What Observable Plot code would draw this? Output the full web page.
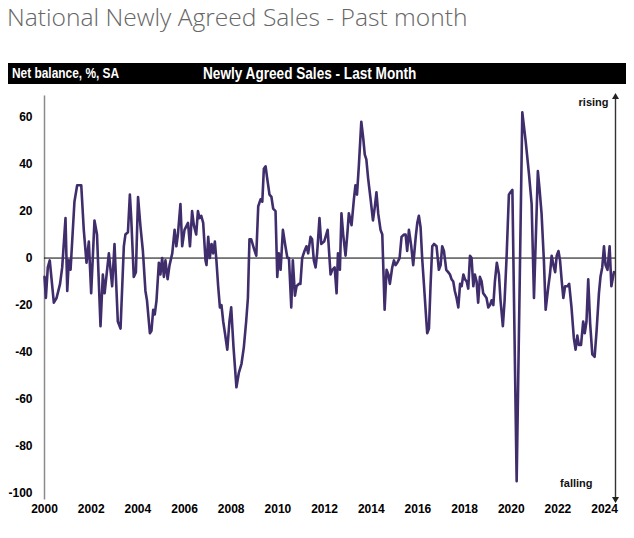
<!DOCTYPE html>
<html>
<head>
<meta charset="utf-8">
<script src="https://cdn.jsdelivr.net/npm/d3@7"></script>
<script src="https://cdn.jsdelivr.net/npm/@observablehq/plot@0.6"></script>
<style>
  html, body { margin: 0; padding: 0; background: #fff; }
  body { width: 634px; height: 538px; position: relative; overflow: hidden; }
  #title { position: absolute; left: 7px; top: -1px; font-family: "Open Sans", sans-serif; font-weight: 300; font-size: 24.6px; color: #666; line-height: 36px; white-space: nowrap; }
  #bar { position: absolute; left: 8px; top: 63px; width: 618px; height: 21px; background: #000; color: #fff; font-family: "Liberation Sans", Arial, sans-serif; font-weight: bold; }
  #bar .l { position: absolute; left: 4px; top: 2px; font-size: 14px; line-height: 17px; white-space: nowrap; transform: scaleX(0.85); transform-origin: 0 50%; }
  #bar .c { position: absolute; left: 195px; top: 1px; font-size: 16px; line-height: 19px; white-space: nowrap; transform: scaleX(0.85); transform-origin: 0 50%; }
  #chart { position: absolute; left: 0; top: 88px; }
</style>
</head>
<body>
<div id="title">National Newly Agreed Sales - Past month</div>
<div id="bar"><span class="l">Net balance, %, SA</span><span class="c">Newly Agreed Sales - Last Month</span></div>
<div id="chart"></div>
<script>
// Position of each vertex, in months since January 2000
const monthsSince2000 = [
  0, 0.7, 1.7, 2.7, 4.8, 6.2, 7.4, 8, 9.1, 10.8, 11.7, 12.5, 13.4, 15.4, 16.8, 18.9, 20.2, 21.6, 22.8, 24,
  25.7, 27, 28.8, 30, 30.9, 33.1, 34.8, 36, 37.7, 39.1, 40.8, 41.6, 42.9, 43.9, 44.6, 45.9, 47, 48.1, 49.4, 50.6,
  51.9, 52.7, 54.2, 55, 55.9, 56.7, 57.6, 58.8, 59.6, 60.5, 61.4, 62.2, 63.3, 64.3, 65.7, 66.9, 67.8, 68.6, 69.9, 70.8,
  72, 73.8, 74.8, 75.9, 76.8, 78, 78.9, 79.7, 80.6, 81.6, 82.8, 83.3, 84.2, 85, 85.9, 86.7, 87.6, 88.4, 89.3, 90.2,
  91, 91.9, 92.8, 94, 95.1, 96, 97.2, 98.7, 99.9, 101.3, 102.5, 103.7, 104.6, 105.4, 106.3, 107.7, 108.9, 109.9, 111.1, 112,
  112.8, 113.7, 114.5, 115.7, 116.7, 117.6, 118.8, 119.7, 120.5, 121.4, 122.6, 123.7, 124.9, 125.7, 126.9, 127.7, 128.8, 129.6, 130.8, 131.6,
  132.5, 133.7, 134.7, 135.6, 136.8, 137.6, 138.5, 139.4, 140.2, 141.4, 142.3, 143.8, 145.6, 147.1, 148, 149.2, 150.2, 150.9, 151.9, 152.7,
  153.6, 154.8, 155.7, 156.5, 157.9, 159.1, 159.9, 160.7, 161.7, 162.9, 163.9, 164.7, 165.5, 166.4, 167.7, 168.9, 169.9, 170.7, 171.6, 172.8,
  173.7, 174.9, 175.9, 176.8, 177.6, 178.8, 179.7, 180.5, 181.4, 182.6, 183.6, 184.8, 185.7, 186.5, 187.4, 188.6, 189.6, 190.9, 191.7, 192.5,
  193.4, 194.2, 195.1, 196.3, 196.8, 197.7, 198.5, 199.4, 200.3, 201.6, 202.8, 203.7, 204.5, 205.4, 206.6, 207.6, 208.5, 209.3, 210.2, 211,
  211.9, 212.8, 213.7, 214.5, 215.4, 216.2, 217.1, 217.9, 218.8, 219.6, 220.5, 221.3, 222.2, 223, 223.9, 224.8, 225.6, 226.5, 227.3, 228.2,
  229.1, 229.9, 230.8, 231.6, 232.6, 233.7, 234.5, 235.7, 236.6, 237.6, 238.8, 239.6, 240.6, 242.8, 245.7, 247.4, 249.1, 250.5, 251.7, 253.7,
  254.6, 255.6, 256.8, 257.7, 259.1, 259.9, 260.8, 261.7, 262.6, 263.4, 264.3, 265.1, 266, 266.8, 267.7, 268.9, 269.8, 271, 272.2, 273.1,
  274, 274.8, 275.9, 277, 277.8, 278.7, 279.6, 280.6, 281.7, 282.9, 283.9, 285.1, 285.9, 286.8, 287.7, 288.5, 289.5, 290.6, 291.5, 292.8
];
// Net balance, %, SA
const netBalance = [
  -8, -17, -4, -1, -19, -17, -13, -11, -4, 17, -14, -1, -5, 24, 31, 31, 12, -2, 7, -15,
  16, 10, -29, -7, -15, 2, -12, 6, -27, -30, 5, 10, 11, 27, 17, -8, -6, 26, 13, 3,
  -14, -18, -32, -31, -22, -24, -18, -2, -7, 0, -8, -1, -9, -3, 2, 12, 5, 10, 23, 5,
  12, 15, 5, 20, 14, 10, 20, 17, 18, 15, -1, -3, 9, 0, 6, 2, 7, -1, -12, -21,
  -20, -27, -32, -39, -27, -21, -38, -55, -49, -45, -38, -27, -17, 8, 8, 4, 1, 22, 25, 24,
  38, 39, 34, 27, 26, 21, 20, -8, 2, -5, 12, 6, 0, 0, -21, -1, -16, -12, -11, -11,
  0, 3, 5, 2, 9, 8, -1, -4, 2, 17, 6, 7, 12, -7, -5, -4, -15, 2, -5, 19,
  10, 1, 10, 19, 14, 25, 31, 27, 40, 58, 51, 44, 42, 34, 25, 16, 22, 28, 19, 12,
  10, -22, -5, -7, -11, -4, -1, -3, -2, 0, 9, 10, 10, 3, 12, 5, -3, 9, 15, 18,
  13, 0, -11, -26, -32, -30, -12, 5, 6, 5, -5, -3, 5, 3, -5, -6, -7, -9, -10, -14,
  -17, -21, -11, -12, -7, -9, -10, -13, 1, 0, -12, -7, -10, -19, -8, -10, -15, -16, -17, -21,
  -20, -18, -20, -10, -2, -7, -18, -29, -18, 0, 27, 28, 29, -95, 62, 50, 36, 23, -17, 37,
  29, 19, -1, -22, -12, -7, 1, -3, -6, 1, 3, -1, -10, -17, -12, -12, -11, -21, -34, -39,
  -33, -37, -37, -27, -32, -27, -9, -28, -41, -42, -31, -15, -8, -4, 5, -3, -5, 5, -12, -6
];
const yearTicks = [2000, 2002, 2004, 2006, 2008, 2010, 2012, 2014, 2016, 2018, 2020, 2022, 2024];
const valueTicks = [60, 40, 20, 0, -20, -40, -60, -80, -100];
const directionLabels = ["rising", "falling"];

const MONTH_MS = 30.436875 * 86400000;
const origin = Date.UTC(2000, 0, 1);
const data = monthsSince2000.map((m, i) => ({date: new Date(origin + m * MONTH_MS), value: netBalance[i]}));

const xStart = new Date(Date.UTC(2000, 0, 1));
const xEnd = new Date(Date.UTC(2024, 5, 20));
const yMin = -103, yMax = 69;
const labelFont = '"Liberation Sans", Arial, sans-serif';

const chart = Plot.plot({
  width: 634,
  height: 450,
  marginLeft: 44,
  marginRight: 19,
  marginTop: 7.4,
  marginBottom: 38.4,
  style: {fontFamily: labelFont, fontSize: "12px", fontWeight: "bold", color: "#000", background: "transparent", overflow: "visible"},
  x: {type: "utc", domain: [xStart, xEnd]},
  y: {domain: [yMin, yMax]},
  marks: [
    Plot.axisX({ticks: yearTicks.map(y => new Date(Date.UTC(y, 0, 1))), tickFormat: d3.utcFormat("%Y"), tickSize: 0, tickPadding: 4, label: null, fontWeight: "bold"}),
    Plot.axisY({ticks: valueTicks, tickFormat: d => String(d), tickSize: 0, tickPadding: 12, label: null, fontWeight: "bold"}),
    Plot.ruleX([xStart], {y1: yMin, y2: yMax, stroke: "#8a8a8a", strokeWidth: 1.5}),
    Plot.ruleY([0], {stroke: "#000", strokeWidth: 1}),
    Plot.line(data, {x: "date", y: "value", stroke: "#3f2d6c", strokeWidth: 2.6, strokeLinejoin: "round", strokeLinecap: "round"}),
    Plot.ruleX([xEnd], {y1: yMin + 1, y2: yMax - 1, stroke: "#333", strokeWidth: 1.4}),
    Plot.dot([{y: yMax - 0.5, r: 0}, {y: yMin + 0.5, r: 180}], {x: () => xEnd, y: "y", symbol: "triangle", r: 2.6, fill: "#222", stroke: "none", rotate: "r"}),
    Plot.text([directionLabels[0]], {x: () => xEnd, y: () => 66.2, text: d => d, textAnchor: "end", dx: -7, fontSize: 11, fontWeight: "bold", fill: "#111"}),
    Plot.text([directionLabels[1]], {x: () => xEnd, y: () => -96, text: d => d, textAnchor: "end", dx: -23, fontSize: 11, fontWeight: "bold", fill: "#111"})
  ]
});
document.getElementById("chart").appendChild(chart);
</script>
</body>
</html>
